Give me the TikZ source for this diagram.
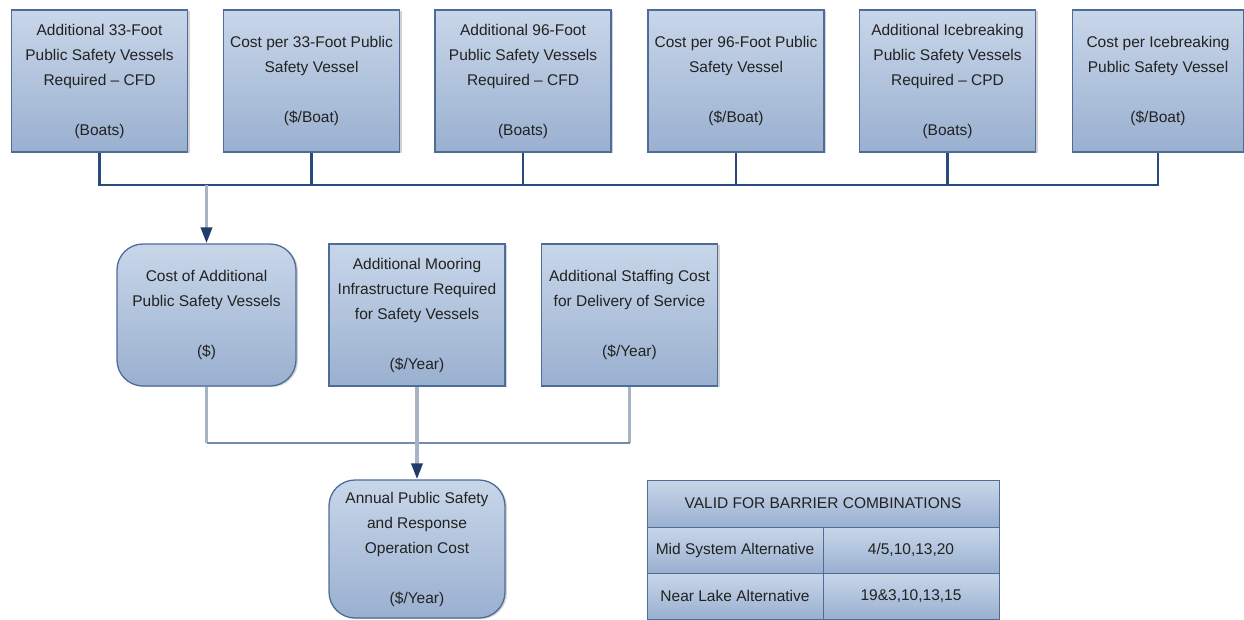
\documentclass[tikz,border=0pt]{standalone}
\usepackage{fontspec}
\setmainfont{Liberation Sans}
\usetikzlibrary{arrows.meta,shadows}
\definecolor{boxtop}{RGB}{200,214,233}
\definecolor{boxbot}{RGB}{154,176,208}
\definecolor{boxedge}{RGB}{78,108,152}
\definecolor{busblue}{RGB}{40,74,124}
\definecolor{feedgray}{RGB}{166,180,196}
\definecolor{joinblue}{RGB}{118,140,170}
\definecolor{tipnavy}{RGB}{30,60,108}
\definecolor{inktext}{RGB}{34,34,34}
\tikzset{blk/.style={draw=boxedge,line width=1.3pt,top color=boxtop,bottom color=boxbot,align=center,text=inktext,font=\fontsize{15.5}{25}\selectfont,minimum width=176pt,minimum height=142pt,inner sep=2pt,drop shadow={shadow xshift=2pt,shadow yshift=-1pt,opacity=0.35,fill=gray}},rblk/.style={blk,rounded corners=26pt},cell/.style={draw=boxedge,line width=1pt,top color=boxtop,bottom color=boxbot,text=inktext,font=\fontsize{15.5}{18}\selectfont,minimum width=176pt,minimum height=46pt,inner sep=0pt},bus/.style={draw=busblue,line width=2.8pt},feed/.style={draw=feedgray,line width=3.5pt},joinline/.style={draw=joinblue,line width=2pt},feedarrow/.style={feed,-{Triangle[length=16pt,width=11pt,color=tipnavy]}}}

\begin{document}
\begin{tikzpicture}[x=1pt,y=-1pt]
\useasboundingbox (0,0) rectangle (1244,619);
% top row: inputs
\node[blk] (add33) at (99.5,81) {Additional 33-Foot\\Public Safety Vessels\\Required -- CFD\\\\(Boats)};
\node[blk] (cost33) at (311.5,81) {Cost per 33-Foot Public\\Safety Vessel\\\\(\$/Boat)};
\node[blk] (add96) at (523,81) {Additional 96-Foot\\Public Safety Vessels\\Required -- CFD\\\\(Boats)};
\node[blk] (cost96) at (736,81) {Cost per 96-Foot Public\\Safety Vessel\\\\(\$/Boat)};
\node[blk] (addice) at (947.5,81) {Additional Icebreaking\\Public Safety Vessels\\Required -- CPD\\\\(Boats)};
\node[blk,minimum width=171pt] (costice) at (1158,81) {Cost per Icebreaking\\Public Safety Vessel\\\\(\$/Boat)};
% middle row
\node[rblk,minimum width=179pt] (vessels) at (206.5,315) {Cost of Additional\\Public Safety Vessels\\\\(\$)};
\node[blk] (mooring) at (417,315) {Additional Mooring\\Infrastructure Required\\for Safety Vessels\\\\(\$/Year)};
\node[blk] (staffing) at (629.5,315) {Additional Staffing Cost\\for Delivery of Service\\\\(\$/Year)};
% result
\node[rblk,minimum height=138pt] (annual) at (417,549) {Annual Public Safety\\and Response\\Operation Cost\\\\(\$/Year)};
% validity table
\node[cell,minimum width=352pt,minimum height=47pt] (head) at (823,503.5) {VALID FOR BARRIER COMBINATIONS};
\node[cell] (midname) at (735,550) {Mid System Alternative};
\node[cell] (midval) at (911,550) {4/5,10,13,20};
\node[cell] (nearname) at (735,596) {Near Lake Alternative};
\node[cell] (nearval) at (911,596) {19\&3,10,13,15};
% connectors
\coordinate (topbus) at (0,185);
\coordinate (lowbus) at (0,443);
\draw[bus] (add33.south) |- (topbus -| costice.south) -- (costice.south);
\foreach \n in {cost33,add96,cost96,addice}
  \draw[bus] (\n.south) -- (\n.south |- topbus);
\draw[feedarrow] (vessels.north |- topbus) -- (vessels.north);
\draw[feed] (vessels.south) -- (vessels.south |- lowbus);
\draw[feed] (staffing.south) -- (staffing.south |- lowbus);
\draw[joinline] (vessels.south |- lowbus) -- (staffing.south |- lowbus);
\draw[feedarrow] (mooring.south) -- (annual.north);
\end{tikzpicture}
\end{document}
